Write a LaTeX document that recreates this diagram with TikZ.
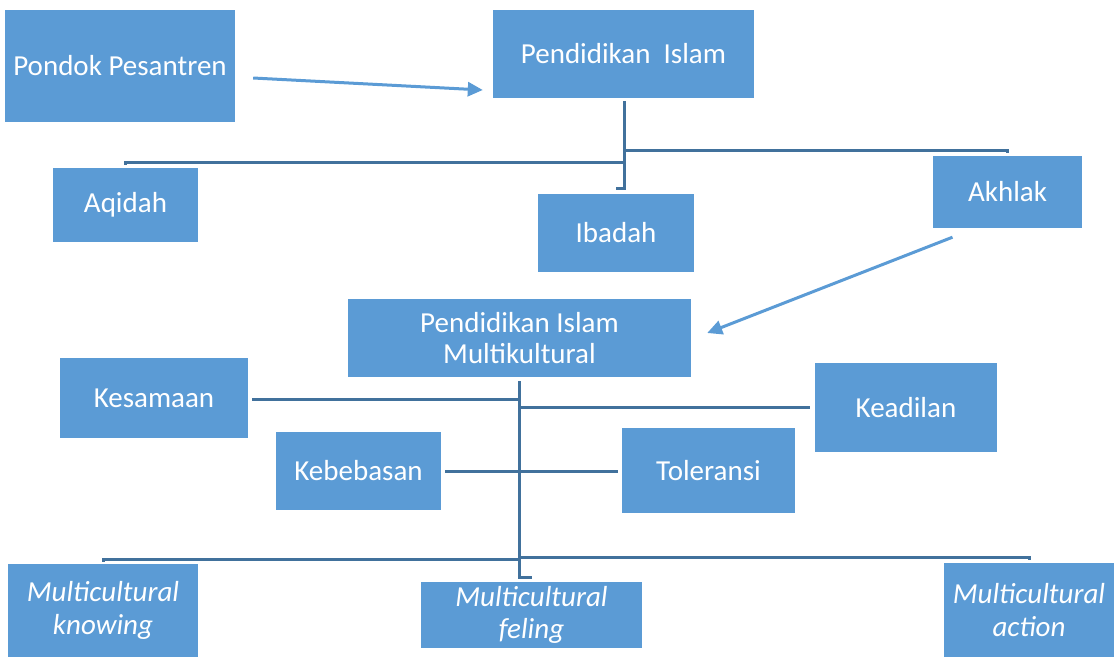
\documentclass[tikz,border=0pt]{standalone}
\usepackage{fontspec}
\setmainfont{Carlito}
\usetikzlibrary{arrows.meta}
\definecolor{boxblue}{HTML}{5B9BD5}
\definecolor{treeblue}{HTML}{41719C}
\newcommand\boxfont{\fontsize{29}{31}\selectfont}
\newcommand\mcfont{\fontsize{29}{32.5}\selectfont\itshape}
\tikzset{
  box/.style={fill=boxblue, text=white, inner sep=0pt, align=center, font=\boxfont},
  mcbox/.style={box, font=\mcfont},
  tree/.style={draw=treeblue, line width=3pt},
  arr/.style={draw=boxblue, line width=3pt, -{Triangle[length=15pt,width=14pt]}}
}
\begin{document}
\begin{tikzpicture}[x=1pt,y=-1pt]
\useasboundingbox (0,0) rectangle (1114,657);
% boxes
\node[box, minimum width=230pt, minimum height=112pt] (pp) at (120,66) {Pondok Pesantren};
\node[box, minimum width=261pt, minimum height=88pt] (pi) at (623.5,54) {Pendidikan~~Islam};
\node[box, minimum width=145pt, minimum height=74pt] (aq) at (125.5,205) {Aqidah};
\node[box, minimum width=156pt, minimum height=78pt] (ib) at (616,233) {Ibadah};
\node[box, minimum width=149pt, minimum height=72pt] (ak) at (1007.5,192) {Akhlak};
\node[box, minimum width=343pt, minimum height=78pt] (pim) at (519.5,338) {Pendidikan Islam\\Multikultural};
\node[box, minimum width=188pt, minimum height=80pt] (ks) at (154,398) {Kesamaan};
\node[box, minimum width=182pt, minimum height=89pt] (kd) at (906,407.5) {Keadilan};
\node[box, minimum width=165pt, minimum height=78pt] (kb) at (358.5,471) {Kebebasan};
\node[box, minimum width=173pt, minimum height=85pt] (tl) at (708.5,470.5) {Toleransi};
\node[mcbox, minimum width=190pt, minimum height=93pt] (mk) at (103,610.5) {Multicultural\\knowing};
\node[mcbox, minimum width=221pt, minimum height=66pt] (mf) at (531.5,615) {Multicultural\\feling};
\node[mcbox, minimum width=170pt, minimum height=94pt] (ma) at (1029,610) {Multicultural\\action};
% arrows
\draw[arr] ([xshift=18pt,yshift=-12pt]pp.east) -- ([xshift=-10pt,yshift=-36pt]pi.west);
\draw[arr] ([xshift=-55pt,yshift=-9pt]ak.south) -- ([xshift=16pt,yshift=5pt]pim.east);
% top tree
\coordinate (j1) at (624,162);
\coordinate (j2) at (624,150);
\draw[tree] ([xshift=0.5pt,yshift=-3pt]pi.south) |- ([yshift=5pt]ib.north);
\draw[tree] (j1) -| ([yshift=3pt]aq.north);
\draw[tree] (j2) -| ([yshift=3pt]ak.north);
% middle tree
\coordinate (ke) at ([xshift=4pt,yshift=-1pt]ks.east);
\draw[tree] ([yshift=-4pt]pim.south) |- ([yshift=4pt]mf.north);
\draw[tree] (ke) -- (pim.south |- ke);
\draw[tree] (pim.south |- kd.west) -- ([xshift=-5pt]kd.west);
\draw[tree] ([xshift=4pt]kb.east) -- ([xshift=-4pt,yshift=-0.5pt]tl.west);
% bottom tree
\coordinate (j3) at (519.5,559);
\coordinate (j4) at (519.5,557);
\draw[tree] (j3) -| ([yshift=2pt]mk.north);
\draw[tree] (j4) -| ([yshift=3pt]ma.north);
\end{tikzpicture}
\end{document}
